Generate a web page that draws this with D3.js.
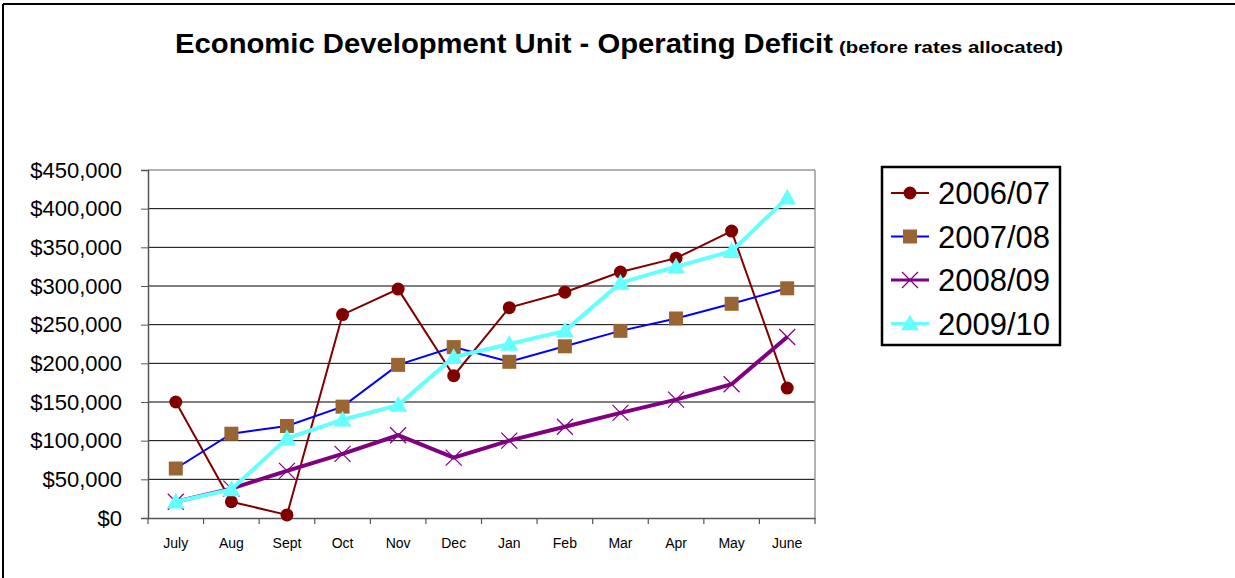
<!DOCTYPE html>
<html>
<head>
<meta charset="utf-8">
<script src="https://cdn.jsdelivr.net/npm/d3@7"></script>
<style>
  body { margin: 0; background: #fff; }
  text { font-family: Arial, "Liberation Sans", sans-serif; }
</style>
</head>
<body>
<script>
// chart data
var months = ["July", "Aug", "Sept", "Oct", "Nov", "Dec", "Jan", "Feb", "Mar", "Apr", "May", "June"];
var seriesNames = ["2006/07", "2007/08", "2008/09", "2009/10"];
var fy0607 = [150000, 21000, 4000, 263000, 296000, 184000, 272000, 292000, 318000, 336000, 371000, 168000];
var fy0708 = [64000, 109000, 119000, 144000, 198000, 221000, 202000, 222000, 242000, 258000, 277000, 297000];
var fy0809 = [21000, 38000, 61000, 83000, 107000, 78000, 100000, 118000, 136000, 153000, 173000, 234000];
var fy0910 = [21000, 37000, 103000, 127000, 146000, 208000, 225000, 242000, 304000, 325000, 345000, 414000];
var yTicks = [0, 50000, 100000, 150000, 200000, 250000, 300000, 350000, 400000, 450000];

var W = 1235, H = 578;
var margin = {top: 170, left: 148, right: 420, bottom: 60};
var width = 815 - margin.left,
    height = 518 - margin.top;

var svg = d3.select("body").append("svg")
    .attr("width", W)
    .attr("height", H);

// outer frame (top + left only visible)
svg.append("line").attr("x1", 3).attr("y1", 4).attr("x2", W).attr("y2", 4)
  .attr("stroke", "#000").attr("stroke-width", 2);
svg.append("line").attr("x1", 3).attr("y1", 4).attr("x2", 3).attr("y2", H)
  .attr("stroke", "#000").attr("stroke-width", 2);

// title
svg.append("text")
  .attr("x", 175).attr("y", 53)
  .style("font-weight", "bold").style("font-size", "27px")
  .attr("textLength", 658).attr("lengthAdjust", "spacingAndGlyphs")
  .text("Economic Development Unit - Operating Deficit");
svg.append("text")
  .attr("x", 839).attr("y", 53)
  .style("font-weight", "bold").style("font-size", "17px")
  .attr("textLength", 224).attr("lengthAdjust", "spacingAndGlyphs")
  .text("(before rates allocated)");

var g = svg.append("g")
  .attr("transform", "translate(" + margin.left + "," + margin.top + ")");

var x = d3.scaleBand().domain(months).range([0, width]);
var y = d3.scaleLinear().domain([0, 450000]).range([height, 0]);

// gridlines
g.selectAll(".grid")
  .data(yTicks.slice(1, -1))
  .enter().append("line")
  .attr("x1", 0).attr("x2", width)
  .attr("y1", d => y(d)).attr("y2", d => y(d))
  .attr("stroke", "#000").attr("stroke-width", 1);

// plot frame top and right (grey)
g.append("line").attr("x1", 0).attr("x2", width).attr("y1", 0).attr("y2", 0)
  .attr("stroke", "#999").attr("stroke-width", 1.5);
g.append("line").attr("x1", width).attr("x2", width).attr("y1", 0).attr("y2", height)
  .attr("stroke", "#999").attr("stroke-width", 1.5);

// y axis
var yAxis = g.append("g")
  .call(d3.axisLeft(y).tickValues(yTicks).tickSize(7).tickPadding(19)
    .tickFormat(d => "$" + d3.format(",")(d)));
yAxis.select(".domain").attr("stroke", "#555").attr("stroke-width", 1.5);
yAxis.selectAll(".tick line").attr("stroke", "#555");
yAxis.selectAll("text").style("font-size", "22px").attr("fill", "#000")
  .style("font-family", "Arial, 'Liberation Sans', sans-serif");

// x axis
var xAxis = g.append("g")
  .attr("transform", "translate(0," + height + ")")
  .call(d3.axisBottom(x).tickSize(0).tickPadding(20));
xAxis.select(".domain").attr("stroke", "#555").attr("stroke-width", 1.5);
xAxis.selectAll("text").style("font-size", "14px").attr("fill", "#000")
  .style("font-family", "Arial, 'Liberation Sans', sans-serif");
// category boundary ticks
g.selectAll(".xtick")
  .data(d3.range(months.length + 1))
  .enter().append("line")
  .attr("x1", i => i * x.step()).attr("x2", i => i * x.step())
  .attr("y1", height).attr("y2", height + 6)
  .attr("stroke", "#555").attr("stroke-width", 1.2);

var cx = (d, i) => x(months[i]) + x.bandwidth() / 2;

var styles = [
  {data: fy0607, line: "#800000", lw: 2, marker: "circle", fill: "#800000", size: 6.5},
  {data: fy0708, line: "#0000ff", lw: 2, marker: "square", fill: "#996633", size: 7},
  {data: fy0809, line: "#800080", lw: 4, marker: "x", fill: "#800080", size: 8},
  {data: fy0910, line: "#66ffff", lw: 4, marker: "triangle", fill: "#66ffff", size: 9}
];

function drawMarker(sel, s) {
  if (s.marker === "circle") {
    sel.append("circle").attr("r", s.size).attr("fill", s.fill);
  } else if (s.marker === "square") {
    sel.append("rect").attr("x", -s.size).attr("y", -s.size)
      .attr("width", s.size * 2).attr("height", s.size * 2).attr("fill", s.fill);
  } else if (s.marker === "x") {
    sel.append("path")
      .attr("d", "M" + -s.size + "," + -s.size + "L" + s.size + "," + s.size +
                 "M" + -s.size + "," + s.size + "L" + s.size + "," + -s.size)
      .attr("stroke", s.fill).attr("stroke-width", 1.2).attr("fill", "none");
  } else {
    sel.append("path")
      .attr("d", "M0," + (-s.size) + "L" + (s.size) + "," + (s.size * 0.75) + "L" + (-s.size) + "," + (s.size * 0.75) + "Z")
      .attr("fill", s.fill);
  }
}

styles.forEach(function(s) {
  var line = d3.line().x(cx).y(d => y(d));
  g.append("path")
    .datum(s.data)
    .attr("d", line)
    .attr("fill", "none")
    .attr("stroke", s.line)
    .attr("stroke-width", s.lw);
  s.data.forEach(function(d, i) {
    var m = g.append("g").attr("transform", "translate(" + cx(d, i) + "," + y(d) + ")");
    drawMarker(m, s);
  });
});

// legend
var leg = svg.append("g").attr("transform", "translate(882,167)");
leg.append("rect").attr("width", 178).attr("height", 178)
  .attr("fill", "#fff").attr("stroke", "#000").attr("stroke-width", 2.5);
seriesNames.forEach(function(name, i) {
  var s = styles[i];
  var ly = 26 + i * 43.5;
  leg.append("line").attr("x1", 9).attr("x2", 47).attr("y1", ly).attr("y2", ly)
    .attr("stroke", s.line).attr("stroke-width", s.lw === 4 ? 3 : 2);
  var m = leg.append("g").attr("transform", "translate(28," + ly + ")");
  drawMarker(m, s);
  leg.append("text").attr("x", 56).attr("y", ly + 11)
    .style("font-size", "31px").attr("fill", "#000").text(name);
});
</script>
</body>
</html>
